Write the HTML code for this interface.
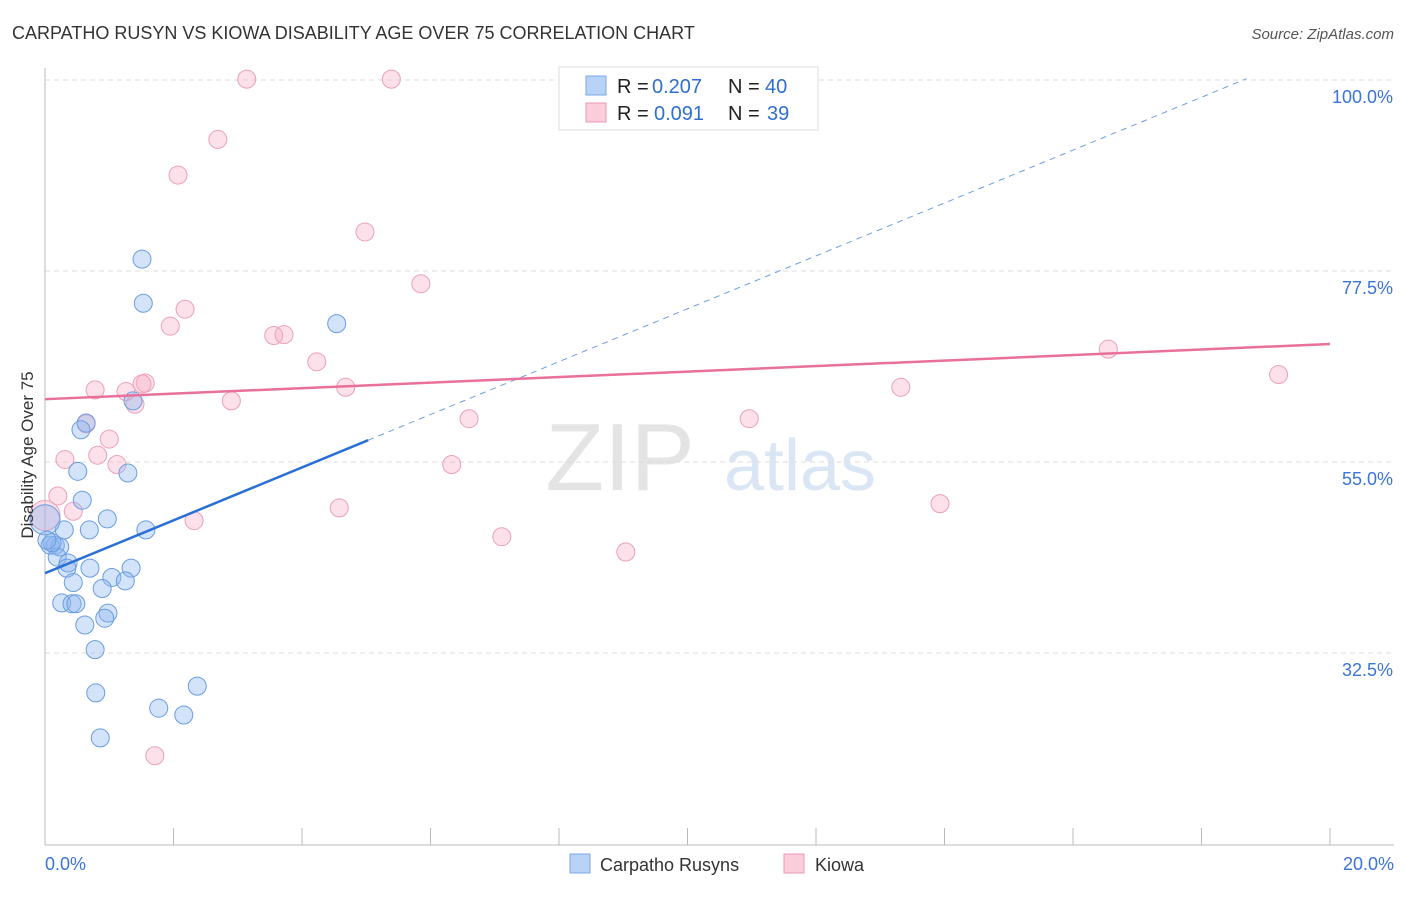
<!DOCTYPE html>
<html><head><meta charset="utf-8"><style>
body{margin:0;background:#fff;font-family:"Liberation Sans",sans-serif;}
svg text{font-family:"Liberation Sans",sans-serif;}
</style></head><body>
<svg width="1406" height="892" xmlns="http://www.w3.org/2000/svg">
<text x="12" y="39" font-size="18" fill="#333">CARPATHO RUSYN VS KIOWA DISABILITY AGE OVER 75 CORRELATION CHART</text>
<text x="1394" y="39" font-size="15" fill="#555" text-anchor="end" font-style="italic">Source: ZipAtlas.com</text>
<text x="620" y="490" font-size="96" fill="#e4e4e4" font-family="Liberation Serif" text-anchor="middle">ZIP</text>
<text x="800" y="490" font-size="72" fill="#dbe6f5" text-anchor="middle">atlas</text>
<g id="grid"></g>
<g id="axes"></g>
<g id="pts"></g>
<g id="lines"></g>
<text transform="translate(33,455) rotate(-90)" font-size="17" fill="#333" text-anchor="middle">Disability Age Over 75</text>
<g>
<rect x="559" y="67" width="259" height="63" fill="#fff" stroke="#ddd"/>
<rect x="586" y="76" width="20" height="19" fill="#b8d3f5" stroke="#7aa7e6"/>
<rect x="586" y="103" width="20" height="19" fill="#f9cdd9" stroke="#eb9ab4"/>
<text y="93" font-size="20" fill="#222"><tspan x="617">R =</tspan><tspan x="652" fill="#2f6fd0">0.207</tspan><tspan x="728">N =</tspan><tspan x="765" fill="#2f6fd0">40</tspan></text>
<text y="120" font-size="20" fill="#222"><tspan x="617">R =</tspan><tspan x="654" fill="#2f6fd0">0.091</tspan><tspan x="728">N =</tspan><tspan x="767" fill="#2f6fd0">39</tspan></text>
</g>
<g>
<rect x="570" y="854" width="20" height="19" fill="#b8d3f5" stroke="#7aa7e6"/>
<text x="600" y="871" font-size="18" fill="#333">Carpatho Rusyns</text>
<rect x="784" y="854" width="20" height="19" fill="#f9cdd9" stroke="#eb9ab4"/>
<text x="815" y="871" font-size="18" fill="#333">Kiowa</text>
</g>
</svg>
<script>
const yTicks=[100,77.5,55,32.5];
const yTickLabels=["100.0%","77.5%","55.0%","32.5%"];
const xTickVals=[0,2,4,6,8,10,12,14,16,18,20];
const xLabels=["0.0%","20.0%"];
const blueX=[1.51,1.53,4.54,1.37,0.64,0.56,0.51,1.29,0.58,0.97,0.69,1.57,0.30,0.08,0.16,0.23,0.19,0.36,0.34,0.70,1.34,1.04,1.25,0.44,0.89,0.26,0.42,0.48,0.98,0.93,0.62,0.78,2.37,0.79,1.77,2.16,0.86,0.0,0.11,0.03];
const blueY=[78.9,73.7,71.3,62.2,59.6,58.8,53.9,53.7,50.5,48.3,47.0,47.0,47.0,45.2,45.2,45.0,43.8,43.1,42.5,42.5,42.5,41.4,41.0,40.8,40.1,38.4,38.3,38.3,37.2,36.6,35.8,32.9,28.6,27.8,26.0,25.2,22.5,48.2,45.5,45.8];
const pinkX=[3.14,5.39,9.10,2.69,2.07,4.98,5.85,2.18,1.95,3.56,3.72,4.23,0.78,1.26,1.56,1.51,4.68,1.40,2.90,0.64,6.60,1.00,6.33,0.82,0.31,1.12,0.20,0.44,2.32,4.58,7.11,9.04,1.71,10.96,13.32,13.93,16.55,19.20,0.0];
const pinkY=[100.1,100.1,100.1,93.0,88.8,82.1,76.0,73.0,71.0,69.9,70.0,66.8,63.5,63.3,64.3,64.2,63.8,61.8,62.2,59.5,60.1,57.7,54.7,55.8,55.3,54.7,51.0,49.2,48.1,49.6,46.2,44.4,20.4,60.1,63.8,50.1,68.3,65.3,48.7];
const blueTrend=[41.9,104.2], pinkTrend=[62.4,68.9];
const NS="http://www.w3.org/2000/svg";
const sx=v=>45+v*64.25, sy=v=>80+(100-v)*8.489;
function mk(t,a,p){const e=document.createElementNS(NS,t);for(const k in a)e.setAttribute(k,a[k]);document.getElementById(p).appendChild(e);return e;}
yTicks.forEach((v,i)=>{
 const g=mk('line',{x1:45,x2:1394,y1:sy(v),y2:sy(v),stroke:'#ddd','stroke-dasharray':'5,4'},'grid');
 
 
 const t=mk('text',{x:1393,y:sy(v)+23,'font-size':18,fill:'#3a74d8','text-anchor':'end'},'axes');
 t.textContent=yTickLabels[i];
 
 
});
const yl=mk('line',{x1:45,x2:45,y1:68,y2:845,stroke:'#bbb'},'axes');


const xl=mk('line',{x1:45,x2:1394,y1:845,y2:845,stroke:'#bbb'},'axes');


xTickVals.forEach(v=>{
 const l=mk('line',{x1:sx(v),x2:sx(v),y1:828,y2:845,stroke:'#bbb'},'axes');
 
 
});
[[0,'start',45],[20,'end',1394]].forEach((d,i)=>{
 const t=mk('text',{x:d[2],y:870,'font-size':18,fill:'#3a74d8','text-anchor':d[1]},'axes');
 t.textContent=xLabels[i];
 
 
});
function pts(X,Y,fill,stroke,name){X.forEach((x,i)=>{
 const big=(x===0);
 const c=mk('circle',{cx:sx(x),cy:sy(Y[i]),r:big?15:9,fill:fill,stroke:stroke,'stroke-width':1},'pts');
 
 
});}
pts(pinkX,pinkY,'rgba(246,170,196,0.35)','#eba0b9','kiowa-point');
pts(blueX,blueY,'rgba(140,182,238,0.38)','#6a9de0','carpatho-point');
const by=x=>blueTrend[0]+(blueTrend[1]-blueTrend[0])*x/20;
const b1=mk('line',{x1:sx(0),y1:sy(by(0)),x2:sx(5.03),y2:sy(by(5.03)),stroke:'#2a6fd6','stroke-width':2.5},'lines');


const xe=18.7;
const b2=mk('line',{x1:sx(5.03),y1:sy(by(5.03)),x2:sx(xe),y2:sy(by(xe)),stroke:'#6e9ee0','stroke-width':1,'stroke-dasharray':'6,5'},'lines');


const p1=mk('line',{x1:sx(0),y1:sy(pinkTrend[0]),x2:sx(20),y2:sy(pinkTrend[1]),stroke:'#e8709a','stroke-width':2.5},'lines');


</script>
</body></html>
